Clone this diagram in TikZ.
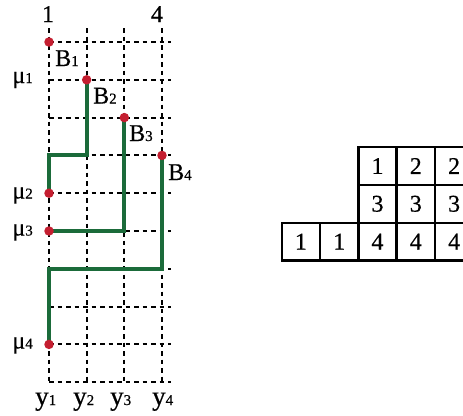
\documentclass[tikz,border=0pt]{standalone}
\usepackage{fontspec}
\setmainfont{Liberation Serif}[FakeBold=0.5]
\newcommand\lsub[1]{{\fontsize{15}{15}\selectfont #1}}
\definecolor{pathgreen}{HTML}{1B6B3A}
\definecolor{dotred}{HTML}{C41E30}
\begin{document}
\begin{tikzpicture}[x=1pt,y=-1pt,
  gridline/.style={line width=1.9pt,dash pattern=on 4.6pt off 3.9pt},
  greenpath/.style={pathgreen,line width=4pt,line join=miter},
  dot/.style={circle,fill=dotred,inner sep=0pt,minimum size=9.5pt},
  lbl/.style={inner sep=0pt,font=\fontsize{24}{24}\selectfont},
  ylbl/.style={inner sep=0pt,font=\fontsize{27}{27}\selectfont},
  cell/.style={draw,line width=2.4pt,minimum width=38.3pt,minimum height=37.8pt,inner sep=0pt,font=\fontsize{24}{24}\selectfont}]
\clip (0,0) rectangle (463,415);
% grid
\foreach \i in {0,...,3} \draw[gridline] ({49+37.67*\i},28) -- ({49+37.67*\i},382.2);
\foreach \j in {0,...,9} \draw[gridline] (49,{42+37.8*\j}) -- (171,{42+37.8*\j});
% points
\coordinate (pb1) at (49,42);
\coordinate (pb2) at (86.67,79.8);
\coordinate (pb3) at (124.33,117.6);
\coordinate (pb4) at (162,155.4);
\coordinate (pm2) at (49,193.2);
\coordinate (pm3) at (49,231);
\coordinate (pm4) at (49,344.4);
\coordinate (c2) at (49,155.4);
\coordinate (c4) at (49,268.8);
% green paths
\draw[greenpath] (pb2) |- (c2) -- (pm2);
\draw[greenpath] (pb3) |- (pm3);
\draw[greenpath] (pb4) |- (c4) -- (pm4);
% dots
\node[dot] (b1) at (pb1) {};
\node[dot] (b2) at (pb2) {};
\node[dot] (b3) at (pb3) {};
\node[dot] (b4) at (pb4) {};
\node[dot] (m2) at (pm2) {};
\node[dot] (m3) at (pm3) {};
\node[dot] (m4) at (pm4) {};
% labels
\node[lbl,anchor=base] (t1) at (48,22) {1};
\node[lbl,anchor=base] (t4) at (157,22) {4};
\node[lbl,anchor=base west] (lb1) at (55,66) {B\lsub{1}};
\node[lbl,anchor=base west] (lb2) at (93,103.5) {B\lsub{2}};
\node[lbl,anchor=base west] (lb3) at (129,141) {B\lsub{3}};
\node[lbl,anchor=base west] (lb4) at (168,180) {B\lsub{4}};
\node[lbl,anchor=base east] (mu1) at (33,83) {μ\lsub{1}};
\node[lbl,anchor=base east] (mu2) at (33,198.5) {μ\lsub{2}};
\node[lbl,anchor=base east] (mu3) at (33,235.5) {μ\lsub{3}};
\node[lbl,anchor=base east] (mu4) at (33,348.5) {μ\lsub{4}};
\node[ylbl,anchor=base west] (y1) at (35,405) {y\lsub{1}};
\node[ylbl,anchor=base west] (y2) at (73,405) {y\lsub{2}};
\node[ylbl,anchor=base west] (y3) at (110,405) {y\lsub{3}};
\node[ylbl,anchor=base west] (y4) at (152,405) {y\lsub{4}};
% tableau
\node[cell] (t11) at (377.5,166) {1};
\node[cell] (t12) at (415.8,166) {2};
\node[cell] (t13) at (454.1,166) {2};
\node[cell] (t21) at (377.5,203.8) {3};
\node[cell] (t22) at (415.8,203.8) {3};
\node[cell] (t23) at (454.1,203.8) {3};
\node[cell] (t31) at (300.9,241.6) {1};
\node[cell] (t32) at (339.2,241.6) {1};
\node[cell] (t33) at (377.5,241.6) {4};
\node[cell] (t34) at (415.8,241.6) {4};
\node[cell] (t35) at (454.1,241.6) {4};
\end{tikzpicture}
\end{document}
